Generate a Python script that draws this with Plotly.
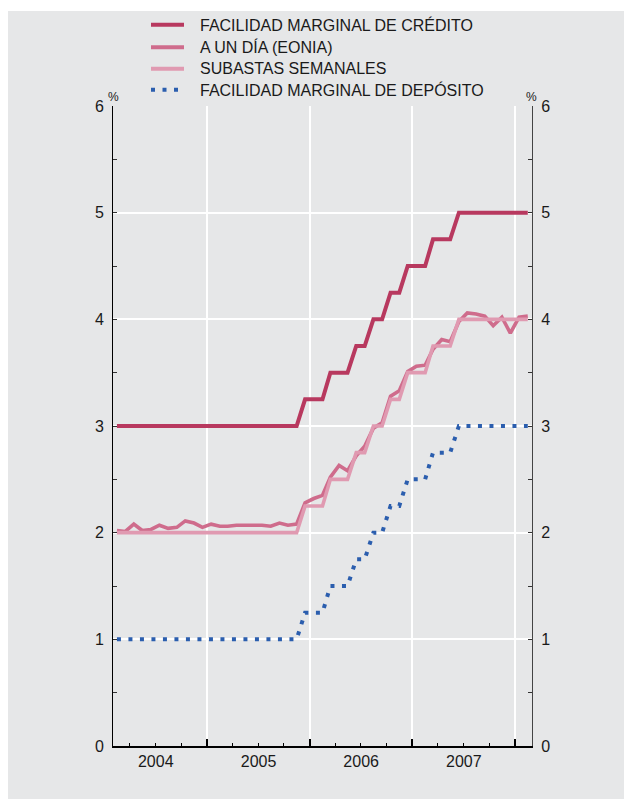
import plotly.graph_objects as go

months = [
    "2004-02-15", "2004-03-15", "2004-04-15", "2004-05-15", "2004-06-15", "2004-07-15",
    "2004-08-15", "2004-09-15", "2004-10-15", "2004-11-15", "2004-12-15",
    "2005-01-15", "2005-02-15", "2005-03-15", "2005-04-15", "2005-05-15", "2005-06-15",
    "2005-07-15", "2005-08-15", "2005-09-15", "2005-10-15", "2005-11-15", "2005-12-15",
    "2006-01-15", "2006-02-15", "2006-03-15", "2006-04-15", "2006-05-15", "2006-06-15",
    "2006-07-15", "2006-08-15", "2006-09-15", "2006-10-15", "2006-11-15", "2006-12-15",
    "2007-01-15", "2007-02-15", "2007-03-15", "2007-04-15", "2007-05-15", "2007-06-15",
    "2007-07-15", "2007-08-15", "2007-09-15", "2007-10-15", "2007-11-15", "2007-12-15",
    "2008-01-15", "2008-02-15",
]

credito = [
    3.00, 3.00, 3.00, 3.00, 3.00, 3.00, 3.00, 3.00, 3.00, 3.00, 3.00,
    3.00, 3.00, 3.00, 3.00, 3.00, 3.00, 3.00, 3.00, 3.00, 3.00, 3.00, 3.25,
    3.25, 3.25, 3.50, 3.50, 3.50, 3.75, 3.75, 4.00, 4.00, 4.25, 4.25, 4.50,
    4.50, 4.50, 4.75, 4.75, 4.75, 5.00, 5.00, 5.00, 5.00, 5.00, 5.00, 5.00,
    5.00, 5.00,
]

eonia = [
    2.02, 2.01, 2.08, 2.02, 2.03, 2.07, 2.04, 2.05, 2.11, 2.09, 2.05,
    2.08, 2.06, 2.06, 2.07, 2.07, 2.07, 2.07, 2.06, 2.09, 2.07, 2.08, 2.28,
    2.32, 2.35, 2.52, 2.63, 2.58, 2.72, 2.81, 2.98, 3.03, 3.28, 3.33, 3.51,
    3.56, 3.57, 3.72, 3.81, 3.79, 3.98, 4.06, 4.05, 4.03, 3.94, 4.02, 3.87,
    4.02, 4.03,
]

subastas = [
    2.00, 2.00, 2.00, 2.00, 2.00, 2.00, 2.00, 2.00, 2.00, 2.00, 2.00,
    2.00, 2.00, 2.00, 2.00, 2.00, 2.00, 2.00, 2.00, 2.00, 2.00, 2.00, 2.25,
    2.25, 2.25, 2.50, 2.50, 2.50, 2.75, 2.75, 3.00, 3.00, 3.25, 3.25, 3.50,
    3.50, 3.50, 3.75, 3.75, 3.75, 4.00, 4.00, 4.00, 4.00, 4.00, 4.00, 4.00,
    4.00, 4.00,
]

deposito = [
    1.00, 1.00, 1.00, 1.00, 1.00, 1.00, 1.00, 1.00, 1.00, 1.00, 1.00,
    1.00, 1.00, 1.00, 1.00, 1.00, 1.00, 1.00, 1.00, 1.00, 1.00, 1.00, 1.25,
    1.25, 1.25, 1.50, 1.50, 1.50, 1.75, 1.75, 2.00, 2.00, 2.25, 2.25, 2.50,
    2.50, 2.50, 2.75, 2.75, 2.75, 3.00, 3.00, 3.00, 3.00, 3.00, 3.00, 3.00,
    3.00, 3.00,
]

series_names = [
    "FACILIDAD MARGINAL DE CRÉDITO",
    "A UN DÍA (EONIA)",
    "SUBASTAS SEMANALES",
    "FACILIDAD MARGINAL DE DEPÓSITO",
]

C_CRED = "#b8395f"
C_EON = "#cf6c8c"
C_SUB = "#e09ab1"
C_DEP = "#2b5eae"
BG = "#e6e7e8"
FONT = "Liberation Sans, Arial, sans-serif"
DOT = "4px,7.5px"

OFF = 8  # page (body) margin
W, H = 624, 791
ML, MR, MT, MB = 105, 100, 98, 53
PW = W - ML - MR
PH = H - MT - MB


def px(x):
    # page pixel x -> paper coordinate
    return (x - OFF - ML) / PW


def py(y):
    # page pixel y -> paper coordinate
    return (H - MB - (y - OFF)) / PH


fig = go.Figure()
fig.add_trace(go.Scatter(x=months, y=credito, mode="lines", name=series_names[0],
                         line=dict(color=C_CRED, width=4), showlegend=False))
fig.add_trace(go.Scatter(x=months, y=eonia, mode="lines", name=series_names[1],
                         line=dict(color=C_EON, width=3.6), showlegend=False))
fig.add_trace(go.Scatter(x=months, y=subastas, mode="lines", name=series_names[2],
                         line=dict(color=C_SUB, width=3.6), showlegend=False))
fig.add_trace(go.Scatter(x=months, y=deposito, mode="lines", name=series_names[3],
                         line=dict(color=C_DEP, width=4, dash=DOT), showlegend=False,
                         yaxis="y2"))

shapes = [
    dict(type="rect", xref="paper", yref="paper", x0=px(-10), x1=px(W + 30),
         y0=py(11), y1=py(-10), fillcolor="white", line=dict(width=0), layer="below"),
]
annotations = []
legend_rows = [24.7, 47.3, 68.7, 89.7]
legend_colors = [C_CRED, C_EON, C_SUB, C_DEP]
for i, (name, yy, col) in enumerate(zip(series_names, legend_rows, legend_colors)):
    if i == 3:
        shapes.append(dict(type="line", xref="paper", yref="paper", x0=px(151), x1=px(178),
                           y0=py(yy), y1=py(yy), line=dict(color=col, width=4, dash=DOT)))
    else:
        shapes.append(dict(type="line", xref="paper", yref="paper", x0=px(151), x1=px(184),
                           y0=py(yy), y1=py(yy), line=dict(color=col, width=4)))
    annotations.append(dict(text=name, xref="paper", yref="paper", x=px(198), y=py(yy),
                            xanchor="left", yanchor="middle", showarrow=False,
                            font=dict(size=16, color="#1a1a1a", family=FONT)))

annotations.append(dict(text="%", xref="paper", yref="paper", x=px(113.5), y=py(97),
                        xanchor="center", yanchor="middle", showarrow=False,
                        font=dict(size=12, color="#1a1a1a", family=FONT)))
annotations.append(dict(text="%", xref="paper", yref="paper", x=px(531), y=py(97),
                        xanchor="center", yanchor="middle", showarrow=False,
                        font=dict(size=12, color="#1a1a1a", family=FONT)))

yaxis_common = dict(
    range=[0, 6], dtick=1, tick0=0, showgrid=True, gridcolor="white", gridwidth=1.5,
    zeroline=False, ticks="inside", ticklen=4, tickcolor="#333333", tickwidth=1,
    minor=dict(dtick=0.5, tick0=0, ticks="inside", ticklen=4, tickcolor="#333333",
               showgrid=False),
    tickfont=dict(size=16, color="#1a1a1a", family=FONT), showline=True, fixedrange=True,
    ticklabelstandoff=5,
)

fig.update_layout(
    width=W, height=H, autosize=False,
    margin=dict(l=ML, r=MR, t=MT, b=MB, pad=0),
    paper_bgcolor=BG, plot_bgcolor=BG,
    font=dict(family=FONT, size=16, color="#1a1a1a"),
    showlegend=False,
    xaxis=dict(
        type="date", range=["2004-02-01", "2008-03-01"], dtick="M12", tick0="2004-01-01",
        tickformat="%Y", ticklabelmode="period", showgrid=True, gridcolor="white",
        gridwidth=1.5, ticks="inside", ticklen=7, tickcolor="black", tickwidth=1.5,
        minor=dict(dtick="M3", tick0="2004-01-01", ticks="inside", ticklen=3.5,
                   tickcolor="black", tickwidth=1, showgrid=False),
        showline=True, linecolor="black", linewidth=2, zeroline=False,
        tickfont=dict(size=16, color="#1a1a1a", family=FONT), fixedrange=True,
    ),
    yaxis=dict(**yaxis_common, linecolor="black", linewidth=1, side="left"),
    yaxis2=dict(**yaxis_common, linecolor="#444444", linewidth=1, side="right",
                overlaying="y"),
    shapes=shapes,
    annotations=annotations,
)

fig.write_html("out.html", config={"displayModeBar": False})
